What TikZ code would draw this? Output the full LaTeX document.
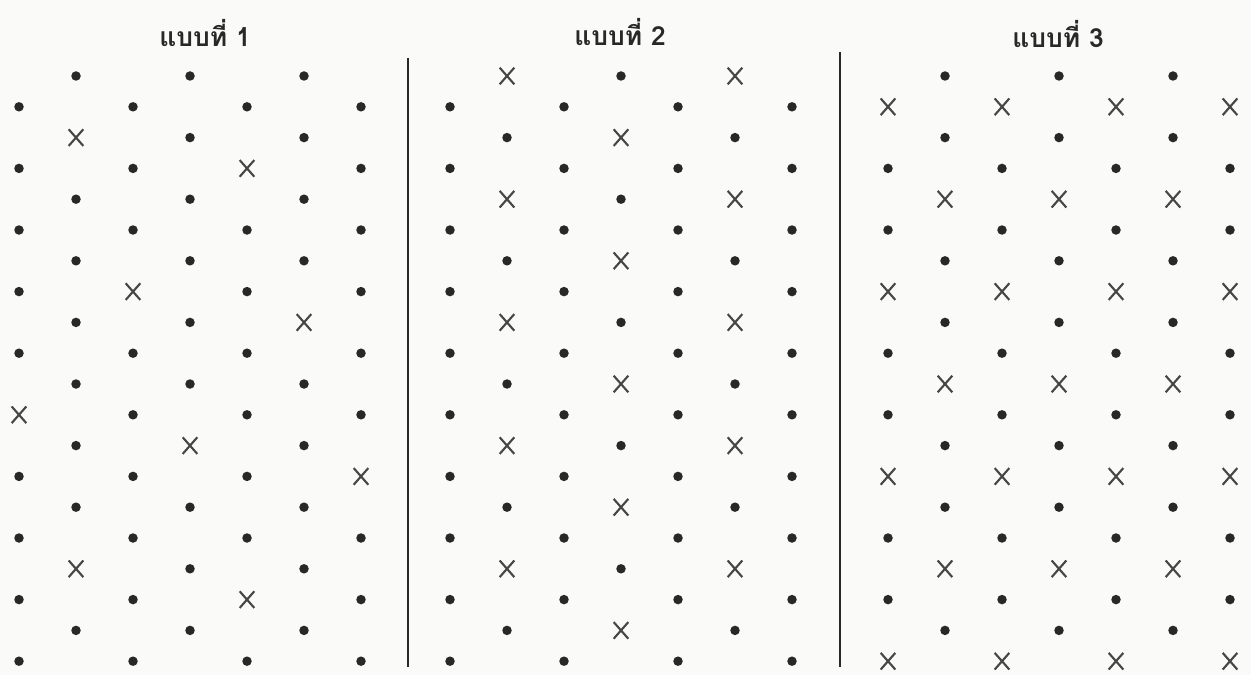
\documentclass[tikz,border=0pt]{standalone}
\usepackage{fontspec}
\usepackage{tikz}
\usetikzlibrary{shapes.misc}
\newfontfamily\thaifont[Script=Thai]{Loma}
\definecolor{paper}{RGB}{250,250,248}
\definecolor{ink}{RGB}{40,40,40}
\definecolor{crossink}{RGB}{70,70,70}
\pgfdeclarelayer{paperlayer}
\pgfdeclarelayer{edgelayer}
\pgfdeclarelayer{nodelayer}
\pgfsetlayers{paperlayer,edgelayer,nodelayer,main}
\tikzstyle{none}=[inner sep=0pt]
\tikzstyle{title}=[inner sep=0pt, font=\thaifont\bfseries\fontsize{15}{18}\selectfont, text=ink]
\tikzstyle{divider}=[draw=ink, line width=1.1pt]
\tikzstyle{pnt}=[circle, fill=ink, inner sep=0pt, minimum size=1.9mm]
\tikzstyle{crs}=[cross out, draw=crossink, line width=1.2pt, inner sep=0pt, minimum width=2.5mm, minimum height=2.9mm]

\begin{document}
\begin{tikzpicture}[x=0.2mm, y=-0.2mm]
			\begin{pgfonlayer}{paperlayer}
			\fill [paper] (0,0) rectangle (1251,675);
			\end{pgfonlayer}
			\useasboundingbox (0,0) rectangle (1251,675);
			\begin{pgfonlayer}{nodelayer}
			\node [style=title] (t1) at (205, 33) {แบบที่ 1};
			\node [style=title] (t2) at (620, 32) {แบบที่ 2};
			\node [style=title] (t3) at (1058, 34) {แบบที่ 3};
			% panel 1
			\foreach \r/\row in {1/{pnt,pnt,pnt}, 2/{pnt,pnt,pnt,pnt}, 3/{crs,pnt,pnt}, 4/{pnt,pnt,crs,pnt},
				5/{pnt,pnt,pnt}, 6/{pnt,pnt,pnt,pnt}, 7/{pnt,pnt,pnt}, 8/{pnt,crs,pnt,pnt},
				9/{pnt,pnt,crs}, 10/{pnt,pnt,pnt,pnt}, 11/{pnt,pnt,pnt}, 12/{crs,pnt,pnt,pnt},
				13/{pnt,crs,pnt}, 14/{pnt,pnt,pnt,crs}, 15/{pnt,pnt,pnt}, 16/{pnt,pnt,pnt,pnt},
				17/{crs,pnt,pnt}, 18/{pnt,pnt,crs,pnt}, 19/{pnt,pnt,pnt}, 20/{pnt,pnt,pnt,pnt}}
				\foreach \m [count=\c] in \row {
					\pgfmathsetmacro\xx{19 + isodd(\r)*57 + (\c-1)*114}
					\pgfmathsetmacro\yy{76 + (\r-1)*30.8}
					\node [style=\m] (a\r-\c) at (\xx, \yy) {};
				}
			% panel 2
			\foreach \r/\row in {1/{crs,pnt,crs}, 2/{pnt,pnt,pnt,pnt}, 3/{pnt,crs,pnt}, 4/{pnt,pnt,pnt,pnt},
				5/{crs,pnt,crs}, 6/{pnt,pnt,pnt,pnt}, 7/{pnt,crs,pnt}, 8/{pnt,pnt,pnt,pnt},
				9/{crs,pnt,crs}, 10/{pnt,pnt,pnt,pnt}, 11/{pnt,crs,pnt}, 12/{pnt,pnt,pnt,pnt},
				13/{crs,pnt,crs}, 14/{pnt,pnt,pnt,pnt}, 15/{pnt,crs,pnt}, 16/{pnt,pnt,pnt,pnt},
				17/{crs,pnt,crs}, 18/{pnt,pnt,pnt,pnt}, 19/{pnt,crs,pnt}, 20/{pnt,pnt,pnt,pnt}}
				\foreach \m [count=\c] in \row {
					\pgfmathsetmacro\xx{450 + isodd(\r)*57 + (\c-1)*114}
					\pgfmathsetmacro\yy{76 + (\r-1)*30.8}
					\node [style=\m] (b\r-\c) at (\xx, \yy) {};
				}
			% panel 3
			\foreach \r/\row in {1/{pnt,pnt,pnt}, 2/{crs,crs,crs,crs}, 3/{pnt,pnt,pnt}, 4/{pnt,pnt,pnt,pnt},
				5/{crs,crs,crs}, 6/{pnt,pnt,pnt,pnt}, 7/{pnt,pnt,pnt}, 8/{crs,crs,crs,crs},
				9/{pnt,pnt,pnt}, 10/{pnt,pnt,pnt,pnt}, 11/{crs,crs,crs}, 12/{pnt,pnt,pnt,pnt},
				13/{pnt,pnt,pnt}, 14/{crs,crs,crs,crs}, 15/{pnt,pnt,pnt}, 16/{pnt,pnt,pnt,pnt},
				17/{crs,crs,crs}, 18/{pnt,pnt,pnt,pnt}, 19/{pnt,pnt,pnt}, 20/{crs,crs,crs,crs}}
				\foreach \m [count=\c] in \row {
					\pgfmathsetmacro\xx{888 + isodd(\r)*57 + (\c-1)*114}
					\pgfmathsetmacro\yy{76 + (\r-1)*30.8}
					\node [style=\m] (c\r-\c) at (\xx, \yy) {};
				}
			\coordinate (s1top) at (408, 58);
			\coordinate (s1bot) at (408, 667);
			\coordinate (s2top) at (840, 52);
			\coordinate (s2bot) at (840, 667);
			\end{pgfonlayer}
			\begin{pgfonlayer}{edgelayer}
			\draw [style=divider] (s1top) to (s1bot);
			\draw [style=divider] (s2top) to (s2bot);
			\end{pgfonlayer}
\end{tikzpicture}
\end{document}
